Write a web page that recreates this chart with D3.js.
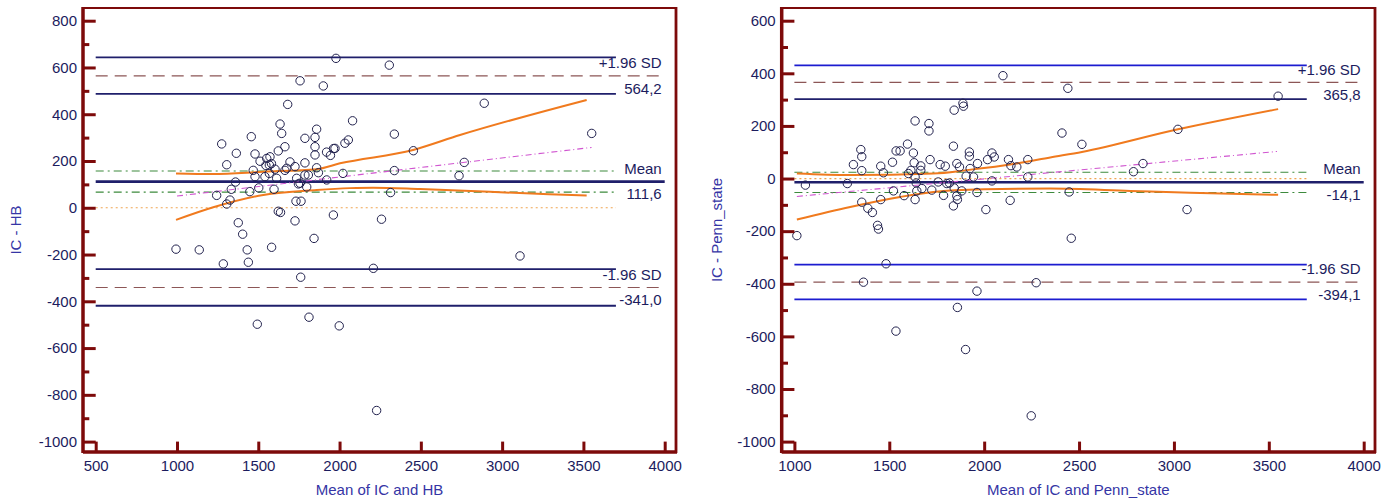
<!DOCTYPE html>
<html>
<head>
<meta charset="utf-8">
<script src="https://cdn.jsdelivr.net/npm/d3@7"></script>
<style>
  body { margin: 0; background: #fff; }
  text { font-family: "Liberation Sans", Arial, sans-serif; }
</style>
</head>
<body>
<svg width="1390" height="498"></svg>
<script>
// ---- IC vs HB ----
var hbMean = [1978,1757,1900,1681,2080,1275,1457,1365,1306,1244,1334,1360,1326,1306,1448,1503,1597,1480,1469,1480,
  1511,1552,1572,1581,1547,1623,1634,1644,1664,1695,1664,1613,1568,1726,1736,1747,1798,1732,1763,1787,
  1849,1859,1849,1849,1787,1859,1870,1787,1920,1963,1944,1921,2021,2033,2054,1962,1623,1637,1726,1377,
  1404,1843,994,1137,1285,1432,1439,1582,1761,1812,1494,1998,3110,2208,2228,2306,2890,3551,2337,2454,
  2337,2767,2735,2314,2258,1972,1675,1808,1757,1541,1603,1568];
var hbDiff = [639,543,521,442,372,273,304,233,184,53,79,110,33,16,69,85,79,230,160,133,
  199,211,218,189,181,243,358,318,261,196,160,126,147,176,126,102,89,28,28,297,
  301,336,261,226,192,171,150,140,238,253,224,119,147,276,290,-31,-15,-20,-56,-64,
  -113,-131,-177,-180,-240,-180,-233,-169,-297,-468,-498,-505,-206,-259,-867,610,447,318,315,244,
  159,194,137,65,-49,254,169,140,105,133,165,183];
var hbLimits = [111.6, 564.2, -341.0];          // mean, +1.96 SD, -1.96 SD
var hbMeanCI = [67, 157];
var hbUpperCI = [487, 643];
var hbLowerCI = [-419, -262];
var hbReg = [[1000, 50], [3550, 258]];
var hbRegUpper = [[994,147],[1222,144],[1530,154],[1859,165],[2003,190],[2452,247],[2741,311],[3520,461]];
var hbRegLower = [[994,-52],[1223,2],[1531,55],[1859,76],[2064,84],[2206,86],[2495,80],[2925,68],[3520,52]];

// ---- IC vs Penn_state ----
var psMean = [2099,1842,1891,1888,1636,1709,1709,1350,1355,1355,1311,1279,1058,1013,1355,1387,1411,1438,1443,1455,
  1455,1469,1517,1522,1536,1557,1578,1596,1601,1614,1627,1631,1636,1642,1636,1645,1666,1666,1672,1715,
  1724,1758,1768,1795,1786,1803,1817,1838,1856,1870,1842,1856,1838,1859,1905,1922,1922,1944,1926,1962,
  1965,2009,2018,2041,2053,2041,2128,2137,2172,2230,2230,1364,1483,1535,1859,1962,1902,2274,2248,2441,
  3549,2410,2515,3021,2837,2787,2448,3069,2459,2141,1882];
var psDiff = [391,260,275,286,219,209,181,110,83,30,53,-19,-25,-217,-90,-113,-129,-178,-192,-80,
  47,22,62,-47,105,105,-65,131,19,31,97,60,6,-17,-80,-47,48,31,-38,72,
  -44,-13,53,47,-64,-19,-17,123,57,44,-36,-66,-104,-80,9,101,85,6,38,-53,
  57,-118,72,97,82,-9,72,-83,44,72,6,-394,-324,-580,-490,-428,-650,-396,-902,343,
  313,173,130,187,57,26,-51,-118,-227,49,-47];
var psLimits = [-14.1, 365.8, -394.1];
var psMeanCI = [-53, 24];
var psUpperCI = [302, 430];
var psLowerCI = [-459, -327];
var psReg = [[1013, -68], [3543, 103]];
var psRegUpper = [[1013,19],[1294,13],[1733,19],[1909,32],[2172,57],[2348,80],[2515,101],[3021,187],[3549,264]];
var psRegLower = [[1013,-156],[1294,-108],[1557,-70],[1733,-51],[1997,-41],[2348,-38],[2770,-47],[3086,-54],[3549,-62]];

var svg = d3.select("svg");
var maroon = "#7d0a0a", navy = "#1f1f6b", textCol = "#1c1c5e", titleCol = "#3535a5";

function fmt(v) { return v.toFixed(1).replace(".", ","); }

function drawPanel(o) {
  var g = svg.append("g");
  var x = d3.scaleLinear().domain(o.xDomain).range([o.left + 12.7, o.right - 11.3]);
  var y = d3.scaleLinear().domain(o.yDomain).range([441.6, 20.7]);
  var x0 = o.xDomain[0];

  function hline(v, x2, color, width, dash) {
    g.append("line")
      .attr("x1", x(x0)).attr("x2", x(x2))
      .attr("y1", y(v)).attr("y2", y(v))
      .attr("stroke", color).attr("stroke-width", width)
      .attr("stroke-dasharray", dash || null);
  }

  // zero line and mean CI
  hline(0, 3700, "#f0a552", 1.2, "2,3");
  o.meanCI.forEach(function(v) { hline(v, 3700, "#3d8a3d", 1.1, "8,4,2,4"); });
  // limits of agreement with CI
  hline(o.limits[1], 4000, "#8c5656", 1.2, "12,7");
  hline(o.limits[2], 4000, "#8c5656", 1.2, "12,7");
  hline(o.upperCI[1], 3700, o.ciColors[0], 1.8);
  hline(o.upperCI[0], 3700, o.ciColors[1], 1.8);
  hline(o.lowerCI[1], 3700, o.ciColors[2], 1.8);
  hline(o.lowerCI[0], 3700, o.ciColors[3], 1.8);
  hline(o.limits[0], 4000, navy, 2.6);

  // regression line with confidence curves
  var line = d3.line().x(function(d) { return x(d[0]); }).y(function(d) { return y(d[1]); });
  g.append("path").attr("d", line(o.reg)).attr("fill", "none")
    .attr("stroke", "#d055d0").attr("stroke-width", 1.1).attr("stroke-dasharray", "6,3,1,3");
  [o.regUpper, o.regLower].forEach(function(c) {
    g.append("path").attr("d", line.curve(d3.curveMonotoneX)(c)).attr("fill", "none")
      .attr("stroke", "#f07a1e").attr("stroke-width", 2);
  });

  // points
  g.append("g").selectAll("circle")
    .data(o.xs.map(function(d, i) { return [d, o.ys[i]]; }))
    .enter().append("circle")
      .attr("cx", function(d) { return x(d[0]); })
      .attr("cy", function(d) { return y(d[1]); })
      .attr("r", 4.2)
      .attr("fill", "none")
      .attr("stroke", "#22224e")
      .attr("stroke-width", 1);

  // line labels
  var labels = [
    [o.limits[1], "+1.96 SD", fmt(o.limits[1])],
    [o.limits[0], "Mean", fmt(o.limits[0])],
    [o.limits[2], "-1.96 SD", fmt(o.limits[2])]
  ];
  labels.forEach(function(l) {
    g.append("text").attr("x", x(4000) - 3).attr("y", y(l[0]) - 13).attr("dy", "0.35em")
      .attr("text-anchor", "end").attr("font-size", 15).attr("fill", textCol).text(l[1]);
    g.append("text").attr("x", x(4000) - 3).attr("y", y(l[0]) + 12.5).attr("dy", "0.35em")
      .attr("text-anchor", "end").attr("font-size", 15).attr("fill", textCol).text(l[2]);
  });

  // frame
  g.append("rect").attr("x", o.left).attr("y", 8)
    .attr("width", o.right - o.left).attr("height", 444)
    .attr("fill", "none").attr("stroke", maroon).attr("stroke-width", 2);
  g.append("line").attr("x1", o.left).attr("x2", o.left).attr("y1", 7).attr("y2", 453)
    .attr("stroke", maroon).attr("stroke-width", 3.5);
  g.append("line").attr("x1", o.left).attr("x2", o.right + 1).attr("y1", 452).attr("y2", 452)
    .attr("stroke", maroon).attr("stroke-width", 3.5);
  g.append("line").attr("x1", o.right).attr("x2", o.right).attr("y1", 7).attr("y2", 453)
    .attr("stroke", maroon).attr("stroke-width", 2.8);

  // axes
  var yMajor = d3.range(o.yDomain[0], o.yDomain[1] + 1, 200);
  var yMinor = d3.range(o.yDomain[0] + 100, o.yDomain[1], 200);
  var xMajor = d3.range(o.xDomain[0], o.xDomain[1] + 1, 500);

  var ya = g.append("g").attr("transform", "translate(" + x(x0) + ",0)")
    .call(d3.axisLeft(y).tickValues(yMajor).tickSize(12.7).tickPadding(6)
      .tickFormat(function(d) { return String(d); }));
  var yb = g.append("g").attr("transform", "translate(" + (o.left + 6.3) + ",0)")
    .call(d3.axisLeft(y).tickValues(yMinor).tickSize(6.3).tickFormat(""));
  var xa = g.append("g").attr("transform", "translate(0," + y(o.yDomain[0]) + ")")
    .call(d3.axisBottom(x).tickValues(xMajor).tickSize(10.4).tickPadding(8)
      .tickFormat(function(d) { return String(d); }));
  [ya, yb, xa].forEach(function(a) {
    a.select(".domain").remove();
    a.selectAll(".tick line").attr("stroke", maroon).attr("stroke-width", 3);
    a.selectAll("text").attr("fill", textCol).attr("font-size", 15)
      .style("font-family", "'Liberation Sans', Arial, sans-serif");
  });

  // titles
  g.append("text")
    .attr("transform", "translate(" + o.ytitleX + ",230) rotate(-90)")
    .attr("dy", "0.35em").attr("text-anchor", "middle")
    .attr("font-size", 15).attr("fill", titleCol).text(o.ytitle);
  g.append("text")
    .attr("x", (o.left + o.right) / 2).attr("y", 495)
    .attr("text-anchor", "middle")
    .attr("font-size", 15).attr("fill", titleCol).text(o.xtitle);
}

drawPanel({
  left: 83, right: 676, xDomain: [500, 4000], yDomain: [-1000, 800],
  xs: hbMean, ys: hbDiff, limits: hbLimits, meanCI: hbMeanCI,
  upperCI: hbUpperCI, lowerCI: hbLowerCI, ciColors: [navy, navy, navy, navy],
  reg: hbReg, regUpper: hbRegUpper, regLower: hbRegLower,
  ytitle: "IC - HB", ytitleX: 16, xtitle: "Mean of IC and HB"
});

drawPanel({
  left: 781.7, right: 1375, xDomain: [1000, 4000], yDomain: [-1000, 600],
  xs: psMean, ys: psDiff, limits: psLimits, meanCI: psMeanCI,
  upperCI: psUpperCI, lowerCI: psLowerCI, ciColors: ["#1c1cd0", navy, "#1c1cd0", "#1c1cd0"],
  reg: psReg, regUpper: psRegUpper, regLower: psRegLower,
  ytitle: "IC - Penn_state", ytitleX: 717, xtitle: "Mean of IC and Penn_state"
});
</script>
</body>
</html>
